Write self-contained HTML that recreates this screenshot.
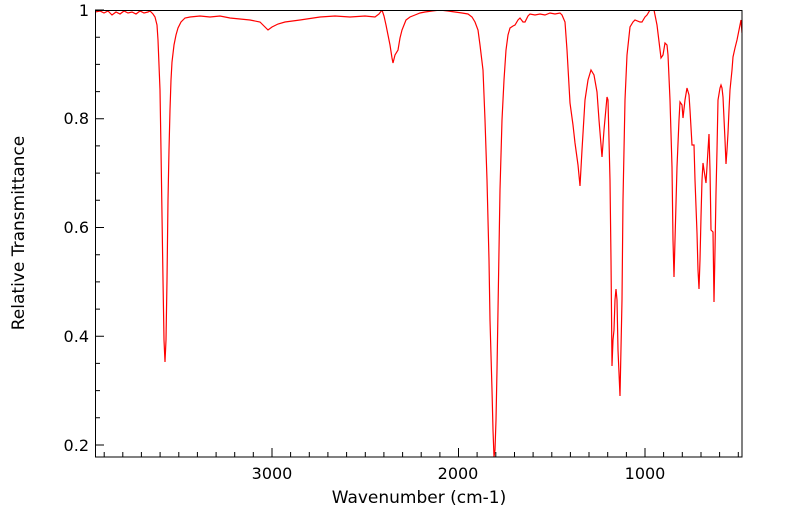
<!DOCTYPE html>
<html><head><meta charset="utf-8"><style>
body{margin:0;background:#fff;}
svg text{font-family:"DejaVu Sans","Liberation Sans",sans-serif;fill:#000;}
</style></head><body>
<svg width="799" height="516" viewBox="0 0 799 516" xmlns="http://www.w3.org/2000/svg">
<rect x="0" y="0" width="799" height="516" fill="#fff"/>
<defs><clipPath id="c"><rect x="95" y="10" width="647" height="447"/></clipPath></defs>
<polyline clip-path="url(#c)" fill="none" stroke="#ff0000" stroke-width="1.2" points="
95,12 100,11 104,13 108,11 112,15 116,12 120,14 124,11 128,13 132,12 136,14 140,11 144,13 148,12 150,11 153,14 155,17 157,25 158,40 160,90 161,150 163,280 164,340 165,362 166,340 167,280 168,200 169,150 170,110 171,80 172,62 174,45 176,35 178,28 181,22 185,18 190,17 200,16 210,17 220,16 230,18 240,19 250,20 260,22 264,26 268,30 272,27 278,24 285,22 300,20 320,17 335,16 350,17 365,16 375,17 379,14 382,10 384,16 386,25 388,35 390,45 392,58 393,63 395,55 398,50 400,38 402,30 406,20 410,17 415,15 420,13 425,12 432,11 440,10 448,11 455,12 462,13 468,14 472,17 475,22 478,30 480,45 483,70 485,120 487,180 489,260 490,320 492,390 493,430 494,457 495,450 496,420 497,370 499,250 500,190 502,120 504,80 506,50 508,35 510,28 513,26 515,25 518,20 520,18 523,22 525,22 528,16 530,14 535,15 540,14 545,15 550,13 555,14 560,13 562,15 565,22 567,50 570,103 573,125 575,143 578,165 580,186 582,150 585,100 588,80 591,70 594,75 597,92 599,120 602,157 604,130 607,97 608,100 610,180 611,260 612,366 613,340 614,330 615,300 616,289 617,300 618,350 620,396 622,300 623,200 625,100 627,55 630,27 633,22 635,20 640,22 642,22 645,17 647,15 650,10 654,10 657,25 661,58 663,55 665,43 667,45 668,55 670,100 672,167 673,240 674,277 675,240 677,167 679,120 680,102 682,105 683,118 685,100 687,88 689,95 690,110 692,145 694,145 695,180 697,233 698,270 699,289 700,260 701,217 702,180 703,163 704,170 706,183 708,150 709,134 710,170 711,230 712,231 713,232 714,302 715,250 716,193 717,150 718,100 720,88 721,85 722,88 723,97 725,140 726,164 727,150 728,133 729,110 730,90 732,70 733,57 735,48 737,40 739,30 740,25 741,20 742,33"/>
<rect x="95.5" y="10.5" width="646.5" height="446.5" fill="none" stroke="#000" stroke-width="1"/>
<g stroke="#000" stroke-width="1" id="ticks"></g>
<g font-size="16">
<text x="272" y="479" text-anchor="middle">3000</text>
<text x="458" y="479" text-anchor="middle">2000</text>
<text x="645" y="479" text-anchor="middle">1000</text>
<text x="89" y="16" text-anchor="end">1</text>
<text x="89" y="124" text-anchor="end">0.8</text>
<text x="89" y="233" text-anchor="end">0.6</text>
<text x="89" y="342" text-anchor="end">0.4</text>
<text x="89" y="451" text-anchor="end">0.2</text>
<text x="419" y="503" text-anchor="middle" font-size="17">Wavenumber (cm-1)</text>
<text x="0" y="0" transform="translate(24,233) rotate(-90)" text-anchor="middle" font-size="17">Relative Transmittance</text>
</g>
<script>
var g=document.getElementById('ticks'),s='';
for(var w=3900;w>=500;w-=100){var x=272+(3000-w)*0.1865;var L=(w%1000==0)?9:5;s+='M'+x.toFixed(1)+' 457V'+(457-L);}
for(var v=0.2;v<=1.0001;v+=0.05){var y=10+(1-v)*543.75;var maj=Math.abs(v*5-Math.round(v*5))<0.01;var L=maj?9:5;s+='M95 '+y.toFixed(1)+'H'+(95+L);}
var p=document.createElementNS('http://www.w3.org/2000/svg','path');p.setAttribute('d',s);g.appendChild(p);
</script>
</svg>
</body></html>
